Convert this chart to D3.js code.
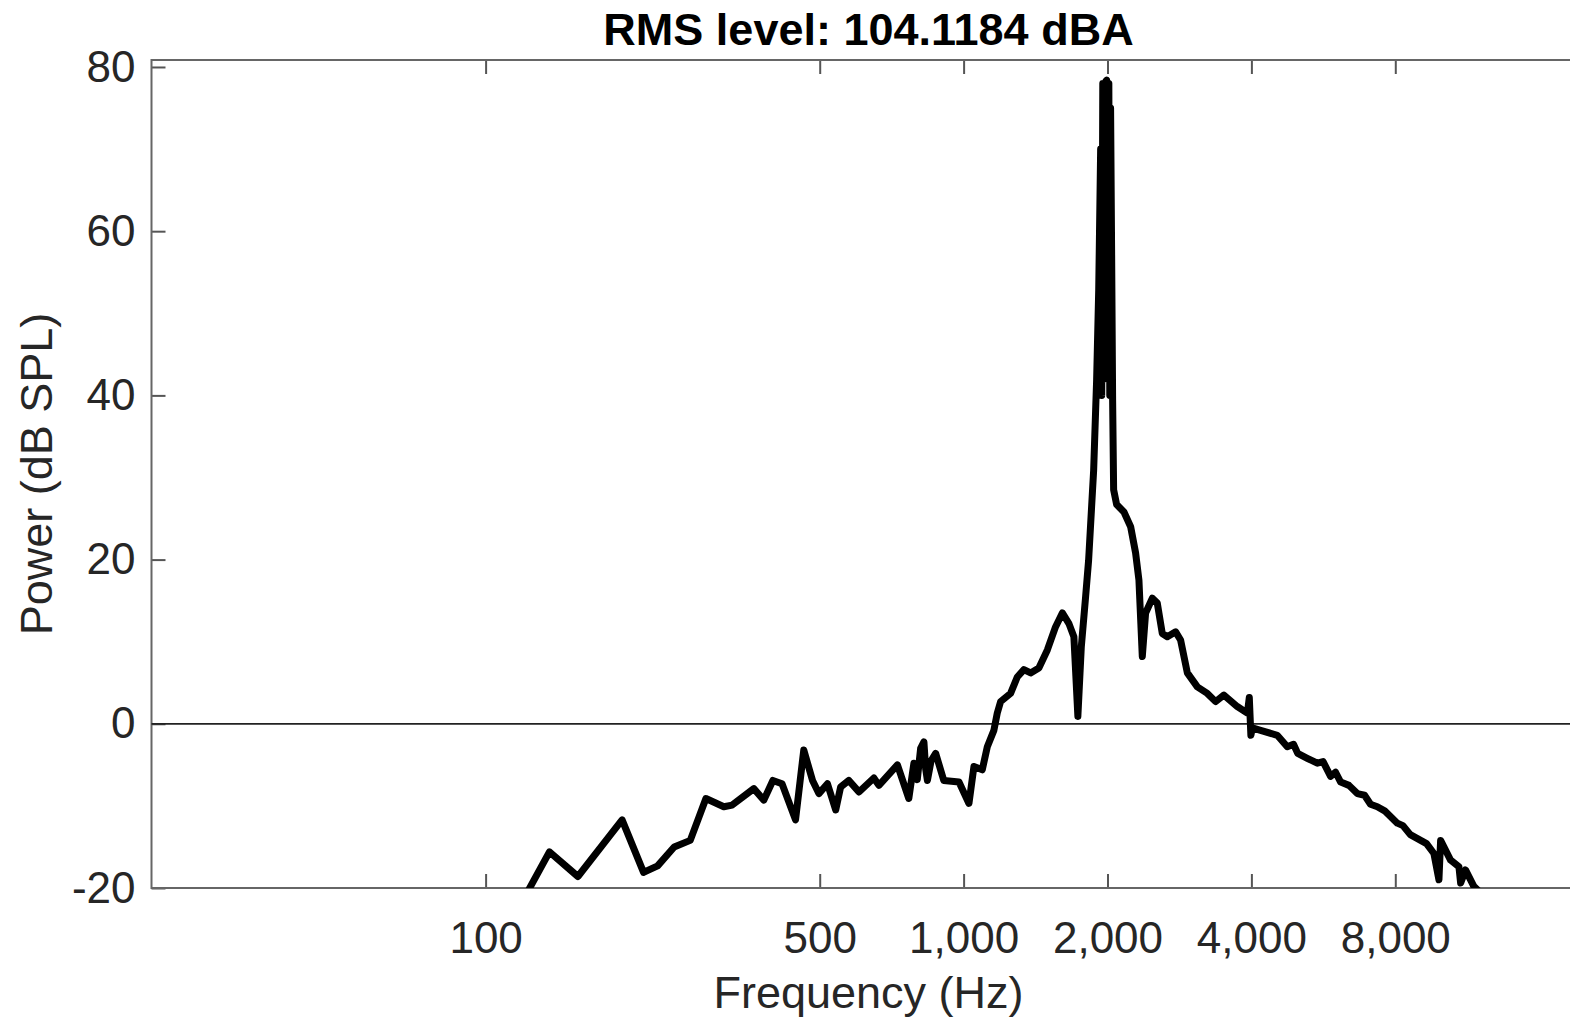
<!DOCTYPE html>
<html>
<head>
    <meta charset="utf-8">
    <script src="https://d3js.org/d3.v7.min.js"></script>
    <style type="text/css">
        body { margin: 0; background: white; }
        text { font-family: "Liberation Sans", Arial, Helvetica, sans-serif; }
    </style>
</head>
<body>
    <script type="text/javascript">

        // chart data
        var freqHz = [121, 136, 156, 193, 214, 229, 248, 268, 289, 315, 328, 364, 382, 399, 417,
                      445, 463, 483, 498, 519, 540, 553, 575, 604, 649, 665, 727, 768, 787, 800,
                      813, 826, 833, 840, 855, 874, 909, 978, 1026, 1051, 1094, 1121, 1157, 1176,
                      1195, 1254, 1295, 1337, 1381, 1437, 1497, 1557, 1609, 1661, 1701, 1734, 1763,
                      1800, 1826, 1871, 1898, 1917, 1935, 1945, 1955, 1968, 1980, 1992, 2003, 2013,
                      2022, 2030, 2040, 2050, 2060, 2090,
                      2165, 2236, 2290, 2327, 2365, 2403, 2482, 2542, 2604, 2668, 2777, 2844, 2938,
                      3083, 3235, 3367, 3504, 3737, 3923, 3960, 3990, 4020, 4181, 4531, 4755, 4900,
                      5000, 5236, 5495, 5650, 5858, 6000, 6149, 6400, 6663, 6900, 7100, 7337, 7600,
                      8079, 8300, 8600, 9040, 9300, 9636, 9872, 9952, 10440, 10870,
                      10960, 11220, 11680, 12070];
        var powerDb = [-21.0, -15.6, -18.6, -11.7, -18.1, -17.3, -15.0, -14.2, -9.1, -10.1, -9.9, -7.9, -9.3, -6.9, -7.3,
                       -11.7, -3.2, -6.9, -8.5, -7.3, -10.5, -7.7, -6.9, -8.3, -6.6, -7.5, -5.0, -9.1, -4.8, -6.8,
                       -3.0, -2.2, -5.5, -6.9, -4.5, -3.6, -6.9, -7.1, -9.7, -5.2, -5.6, -2.8, -0.8, 1.3,
                       2.7, 3.7, 5.7, 6.6, 6.2, 6.8, 9.0, 11.8, 13.5, 12.2, 10.6, 0.9, 9.4,
                       15.5, 19.9, 30.9, 41.9, 52.8, 70.0, 40.0, 78.0, 42.0, 78.2, 78.4, 45.0, 78.0,
                       40.0, 75.0, 57.7, 39.4, 28.5, 26.7,
                       25.8, 24.0, 20.8, 17.5, 8.2, 13.5, 15.3, 14.7, 11.0, 10.6, 11.2, 10.2, 6.2,
                       4.5, 3.7, 2.7, 3.5, 2.1, 1.3, 3.2, -1.4, -0.5, -0.8, -1.4, -2.8, -2.5,
                       -3.6, -4.2, -4.8, -4.6, -6.4, -5.9, -7.1, -7.5, -8.5, -8.7, -9.8, -10.1, -10.6,
                       -12.1, -12.4, -13.5, -14.2, -14.6, -15.8, -19.0, -14.2, -16.6, -17.4,
                       -19.4, -17.8, -19.8, -20.6];

        // axis ticks and texts
        var xTicks = [100, 500, 1000, 2000, 4000, 8000];
        var yTicks = [-20, 0, 20, 40, 60, 80];
        var titleText = "RMS level: 104.1184 dBA";
        var xLabel = "Frequency (Hz)";
        var yLabel = "Power (dB SPL)";

        var w = 1570;
        var h = 1023;
        // plot box (right edge falls outside the picture, as in the original)
        var plotL = 151.5, plotR = 1585.5, plotT = 60, plotB = 888;

        var svg = d3.select("body")
            .append("svg")
            .attr("width", w)
            .attr("height", h);

        svg.append("rect").attr("width", w).attr("height", h).attr("fill", "white");

        var xScale = d3.scaleLog()
            .domain([20, 20000])
            .range([plotL, plotR]);

        var yScale = d3.scaleLinear()
            .domain([-20, 80.85])
            .range([plotB, plotT]);

        // clip for the plot area
        svg.append("clipPath").attr("id", "plotclip")
            .append("rect")
            .attr("x", plotL).attr("y", plotT)
            .attr("width", plotR - plotL).attr("height", plotB - plotT);

        // axes, ticks pointing inward like matlab
        var tickCol = "#555";
        var styleAxis = function(g) {
            g.select(".domain").remove();
            g.selectAll(".tick line").attr("stroke", tickCol).attr("stroke-width", 2);
            g.selectAll(".tick text")
                .attr("fill", "#262626")
                .style("font-size", "44px")
                .style("font-family", "'Liberation Sans', Arial, sans-serif");
        };

        svg.append("g")
            .attr("transform", "translate(0," + plotB + ")")
            .call(d3.axisBottom(xScale).tickValues(xTicks).tickFormat(d3.format(","))
                .tickSizeInner(-14).tickSizeOuter(0).tickPadding(34))
            .call(styleAxis);

        svg.append("g")
            .attr("transform", "translate(0," + plotT + ")")
            .call(d3.axisTop(xScale).tickValues(xTicks).tickFormat("")
                .tickSizeInner(-14).tickSizeOuter(0))
            .call(styleAxis);

        // plain hyphen for negative labels
        svg.append("g")
            .attr("transform", "translate(" + plotL + ",0)")
            .call(d3.axisLeft(yScale).tickValues(yTicks).tickFormat(function(d) { return String(d); })
                .tickSizeInner(-14).tickSizeOuter(0).tickPadding(16))
            .call(styleAxis);

        svg.append("g")
            .attr("transform", "translate(" + plotR + ",0)")
            .call(d3.axisRight(yScale).tickValues(yTicks).tickFormat("")
                .tickSizeInner(-14).tickSizeOuter(0))
            .call(styleAxis);

        // axes box
        svg.append("rect")
            .attr("x", plotL).attr("y", plotT)
            .attr("width", plotR - plotL).attr("height", plotB - plotT)
            .attr("fill", "none")
            .attr("stroke", "#666")
            .attr("stroke-width", 2);

        // zero reference line
        svg.append("line")
            .attr("x1", plotL).attr("x2", plotR)
            .attr("y1", yScale(0)).attr("y2", yScale(0))
            .attr("stroke", "#222")
            .attr("stroke-width", 1.8);

        // spectrum
        var line = d3.line()
            .x(function(d, i) { return xScale(freqHz[i]); })
            .y(function(d) { return yScale(d); });

        svg.append("path")
            .datum(powerDb)
            .attr("clip-path", "url(#plotclip)")
            .attr("d", line)
            .attr("fill", "none")
            .attr("stroke", "black")
            .attr("stroke-width", 7)
            .attr("stroke-linejoin", "round");

        // texts
        svg.append("text")
            .attr("x", (plotL + plotR) / 2)
            .attr("y", 45)
            .attr("text-anchor", "middle")
            .attr("font-size", 45)
            .attr("font-weight", "bold")
            .attr("fill", "#000")
            .text(titleText);

        svg.append("text")
            .attr("x", (plotL + plotR) / 2)
            .attr("y", 1008)
            .attr("text-anchor", "middle")
            .attr("font-size", 45)
            .attr("fill", "#262626")
            .text(xLabel);

        svg.append("text")
            .attr("transform", "translate(52," + (plotT + plotB) / 2 + ") rotate(-90)")
            .attr("text-anchor", "middle")
            .attr("font-size", 45)
            .attr("fill", "#262626")
            .text(yLabel);

    </script>
</body>
</html>
